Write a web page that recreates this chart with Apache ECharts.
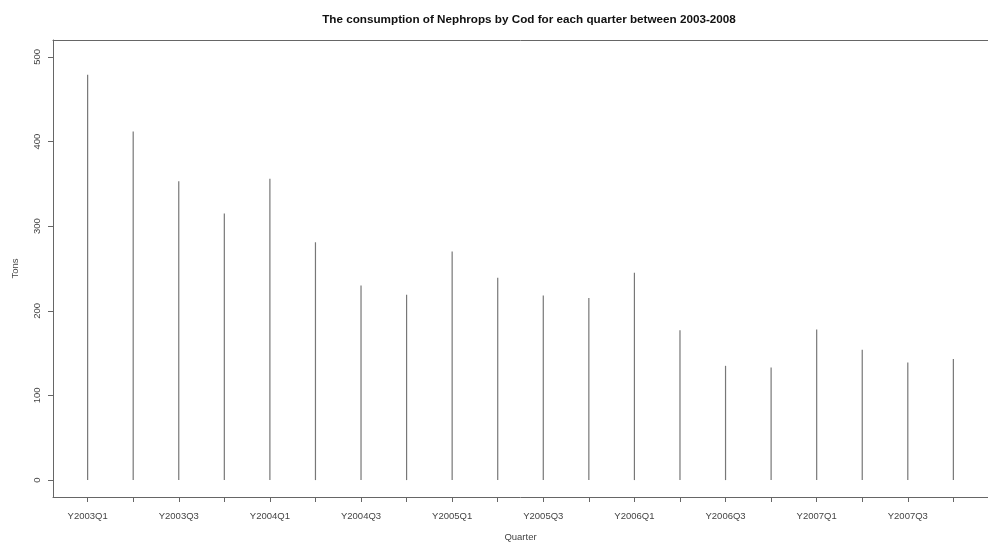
<!DOCTYPE html>
<html><head><meta charset="utf-8">
<script src="https://cdn.jsdelivr.net/npm/echarts@6/dist/echarts.min.js"></script>
<style>html,body{margin:0;padding:0;background:#fff}#c{width:988px;height:547px}</style>
</head><body><div id="c"></div>
<script>
const quarters = ["Y2003Q1","Y2003Q2","Y2003Q3","Y2003Q4","Y2004Q1","Y2004Q2","Y2004Q3","Y2004Q4",
  "Y2005Q1","Y2005Q2","Y2005Q3","Y2005Q4","Y2006Q1","Y2006Q2","Y2006Q3","Y2006Q4",
  "Y2007Q1","Y2007Q2","Y2007Q3","Y2007Q4"];
const tons = [479,412,353,315,356,281,230,219,270,239,218,215,245,177,135,133,178,154,139,143];
const yTicks = [0,100,200,300,400,500];
const labelIdx = [0,2,4,6,8,10,12,14,16,18];
const tickIdx = quarters.map((q,i)=>i);

const chart = echarts.init(document.getElementById('c'), null, {renderer:'canvas'});
const font = 'Liberation Sans, Arial, sans-serif';
const boxLine = {show:true, onZero:false, lineStyle:{color:'#666', width:1}};
chart.setOption({
  animation:false,
  title:{text:'The consumption of Nephrops by Cod for each quarter between 2003-2008',
    left:524, textAlign:'center', top:9,
    textStyle:{fontFamily:font,fontSize:11.7,fontWeight:'bold',color:'#111'}},
  grid:{left:53, top:40, width:942, height:461, show:false},
  xAxis:[{type:'value', min:-0.76, max:19.76, position:'bottom',
    name:'Quarter', nameLocation:'middle', nameGap:35,
    nameTextStyle:{fontFamily:font,fontSize:9.5,color:'#444'},
    axisLine:boxLine, splitLine:{show:false},
    axisTick:{show:true, length:5, customValues:tickIdx, lineStyle:{color:'#666'}},
    axisLabel:{customValues:labelIdx, margin:14, fontFamily:font, fontSize:9.5, color:'#444',
      formatter:v=>quarters[Math.round(v)]}},
    {type:'value', min:-0.76, max:19.76, position:'top',
    axisLine:boxLine, splitLine:{show:false}, axisTick:{show:false}, axisLabel:{show:false}}],
  yAxis:{type:'value', min:-20, max:520,
    name:'Tons', nameLocation:'middle', nameGap:33, nameRotate:90,
    nameTextStyle:{fontFamily:font,fontSize:9.5,color:'#444'},
    axisLine:boxLine, splitLine:{show:false},
    axisTick:{show:true, length:5, customValues:yTicks, lineStyle:{color:'#666'}},
    axisLabel:{customValues:yTicks, rotate:90, margin:11, fontFamily:font, fontSize:9.5, color:'#444'}},
  series:[{type:'bar', xAxisIndex:0, barWidth:1.2, itemStyle:{color:'#777'},
    data:tons.map((v,i)=>[i,v])}]
});
</script></body></html>
